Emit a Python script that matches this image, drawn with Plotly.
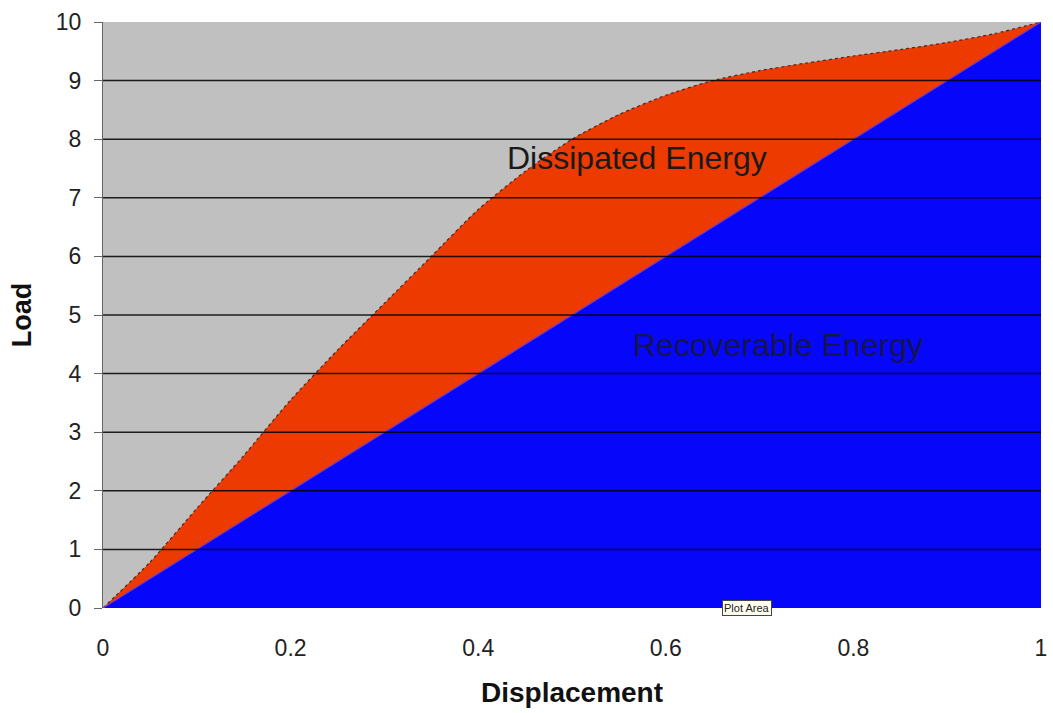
import plotly.graph_objects as go

# Data
displacement = [0.0, 0.05, 0.10, 0.15, 0.20, 0.25, 0.30, 0.35, 0.40, 0.45, 0.50,
                0.55, 0.60, 0.65, 0.70, 0.75, 0.80, 0.85, 0.90, 0.95, 1.0]
loading_load = [0.0, 0.78, 1.7, 2.6, 3.55, 4.4, 5.2, 6.0, 6.8, 7.45, 8.0,
                8.42, 8.75, 9.0, 9.17, 9.3, 9.42, 9.53, 9.65, 9.8, 10.0]
unload_disp = [0.0, 1.0]
unload_load = [0.0, 10.0]

x_ticks = [0, 0.2, 0.4, 0.6, 0.8, 1]
x_tick_labels = ["0", "0.2", "0.4", "0.6", "0.8", "1"]
y_ticks = [0, 1, 2, 3, 4, 5, 6, 7, 8, 9, 10]
grid_levels = [1, 2, 3, 4, 5, 6, 7, 8, 9]

FONT = "Arial, Liberation Sans, sans-serif"

fig = go.Figure()

fig.add_trace(go.Scatter(
    x=displacement, y=loading_load, mode="lines", fill="tozeroy",
    fillcolor="rgb(236,58,0)", line=dict(color="rgb(80,40,30)", width=1.2, dash="dot",
                                          shape="spline", smoothing=0.6),
    hoverinfo="skip", showlegend=False))

fig.add_trace(go.Scatter(
    x=unload_disp, y=unload_load, mode="lines", fill="tozeroy",
    fillcolor="rgb(6,6,250)", line=dict(color="rgb(120,60,200)", width=1.2),
    hoverinfo="skip", showlegend=False))

for g in grid_levels:
    fig.add_shape(type="line", xref="paper", yref="y", x0=0, x1=1, y0=g, y1=g,
                  line=dict(color="rgba(0,0,0,0.85)", width=1.5), layer="above")

fig.add_annotation(x=0.569, y=7.68, text="Dissipated Energy", showarrow=False,
                   font=dict(family=FONT, size=32, color="#1a1a1a"))
fig.add_annotation(x=0.72, y=4.49, text="Recoverable Energy", showarrow=False,
                   font=dict(family=FONT, size=32, color="#141450"))
fig.add_annotation(x=0.687, y=0.0, yanchor="middle", text="Plot Area", showarrow=False,
                   font=dict(family=FONT, size=11, color="#222"),
                   bgcolor="#fffff0", bordercolor="#444", borderwidth=1, borderpad=1)

fig.update_layout(
    width=1053, height=713,
    margin=dict(l=103, r=6, t=22, b=105),
    paper_bgcolor="white", plot_bgcolor="rgb(192,192,192)",
    font=dict(family=FONT, size=23, color="#222"),
    xaxis=dict(range=[0, 1], tickvals=x_ticks, ticktext=x_tick_labels,
               showgrid=False, zeroline=False, showline=False, ticks="",
               ticklabelstandoff=24, ticklabeloverflow="allow",
               title=dict(text="<b>Displacement</b>", font=dict(size=28, color="#111"), standoff=22)),
    yaxis=dict(range=[0, 10], tickvals=y_ticks, showgrid=False, zeroline=False,
               showline=True, linecolor="#666", linewidth=1,
               ticks="outside", ticklen=8, tickcolor="#666", ticklabelstandoff=8,
               ticklabeloverflow="allow",
               title=dict(text="<b>Load</b>", font=dict(size=27, color="#111"), standoff=16)),
)

fig.write_html("out.html")
